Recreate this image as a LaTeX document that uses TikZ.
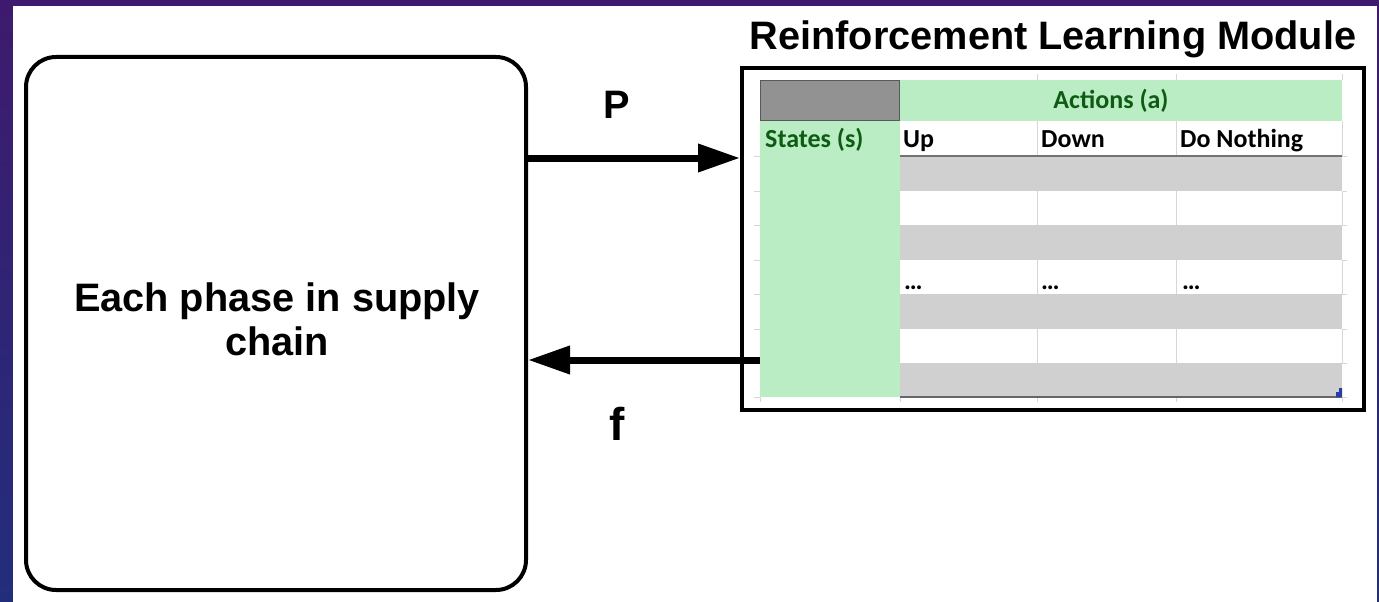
\documentclass[tikz,border=0pt]{standalone}
\usepackage{fontspec}
\setmainfont{Liberation Sans}
\newfontfamily\calib{Carlito}
\usetikzlibrary{arrows.meta}
\definecolor{bgtop}{RGB}{62,26,110}
\definecolor{bgbot}{RGB}{34,46,124}
\definecolor{cellgreen}{RGB}{186,237,196}
\definecolor{txtgreen}{RGB}{14,92,20}
\definecolor{rowgrey}{RGB}{208,208,208}
\definecolor{hdrgrey}{RGB}{146,146,146}
\definecolor{gridgrey}{RGB}{215,215,215}
\definecolor{handleblue}{RGB}{40,60,170}
\tikzset{
  bigtext/.style={font=\bfseries\fontsize{39.7}{45}\selectfont, text=black},
  tabtext/.style={font=\calib\bfseries\fontsize{26}{30}\selectfont, anchor=base west, inner sep=0pt},
  flowarrow/.style={line width=7pt, -{Triangle[length=42pt,width=27pt]}},
  gridline/.style={draw=gridgrey, line width=0.8pt},
}
\begin{document}
\begin{tikzpicture}[x=1pt,y=-1pt]
\useasboundingbox (0,0) rectangle (1379,602);
% slide background
\shade[top color=bgtop, bottom color=bgbot] (0,0) rectangle (1379,602);
\fill[white] (13,6) rectangle (1377,602);

% left box
\node[draw, rounded corners=30pt, line width=4pt, minimum width=500pt, minimum height=533pt, inner sep=0pt] (phase) at (276,323.5) {};
\node[align=center, bigtext, inner sep=0pt, anchor=base] (phasetext) at (277,355)
      {Each phase in supply\\[-1pt]chain};

% RL module box
\node[draw, line width=4pt, minimum width=622pt, minimum height=342pt, inner sep=0pt] (rl) at (1053,239) {};
\node[bigtext, anchor=base] (title) at (1053,50) {Reinforcement Learning Module};

% table
\fill[cellgreen] (900,80) rectangle (1342,121);
\node[draw=black!65, line width=1.5pt, fill=hdrgrey, minimum width=139pt, minimum height=40pt, inner sep=0pt] (corner) at (830,100.5) {};
\node[fill=cellgreen, minimum width=140pt, minimum height=276pt, inner sep=0pt] (states) at (830,259) {};
\foreach \y in {156,225,294,363} {
  \fill[rowgrey] (900,\y) rectangle (1342,\y+34.5);
}
% grid lines
\foreach \x in {1037,1176,1342} {
  \draw[gridline] (\x,74) -- (\x,80);
  \draw[gridline] (\x,121) -- (\x,156);
  \draw[gridline] (\x,191) -- (\x,225);
  \draw[gridline] (\x,260) -- (\x,294);
  \draw[gridline] (\x,329) -- (\x,363);
  \draw[gridline] (\x,397) -- (\x,402);
}
\draw[gridline] (900,397) -- (900,402);
\draw[gridline] (760,397) -- (760,402);
\foreach \y in {156,191,225,260,294,329,363,397} {
  \draw[gridline] (754,\y) -- (760,\y);
  \draw[gridline] (1342,\y) -- (1347,\y);
}
\draw[black!55, line width=1.2pt] (900,156) -- (1342,156);
\draw[black!60, line width=1.5pt] (900,397) -- (1342,397);
\fill[handleblue] (1336,392) -- (1339,392) -- (1339,388) -- (1342,388) -- (1342,397) -- (1336,397) -- cycle;

% table texts
\node[tabtext, anchor=base, text=txtgreen] (actions) at (1111,108) {Actions (a)};
\node[tabtext, text=txtgreen] (statestxt) at (765,147) {States (s)};
\node[tabtext] (up) at (903,147) {Up};
\node[tabtext] (down) at (1041,147) {Down};
\node[tabtext] (donothing) at (1180,147) {Do Nothing};
\node[tabtext] (d1) at (904,289) {…};
\node[tabtext] (d2) at (1041,289) {…};
\node[tabtext] (d3) at (1182,289) {…};

% arrows
\coordinate (pY) at (600,158);
\coordinate (fY) at (600,360);
\draw[flowarrow] (phase.east |- pY) -- (rl.west |- pY);
\draw[flowarrow] (states.west |- fY) -- (phase.east |- fY);
\node[bigtext, anchor=base] (plabel) at (617,118) {P};
\node[bigtext, anchor=base, font=\bfseries\fontsize{46}{50}\selectfont] (flabel) at (617,440) {f};
\end{tikzpicture}
\end{document}
